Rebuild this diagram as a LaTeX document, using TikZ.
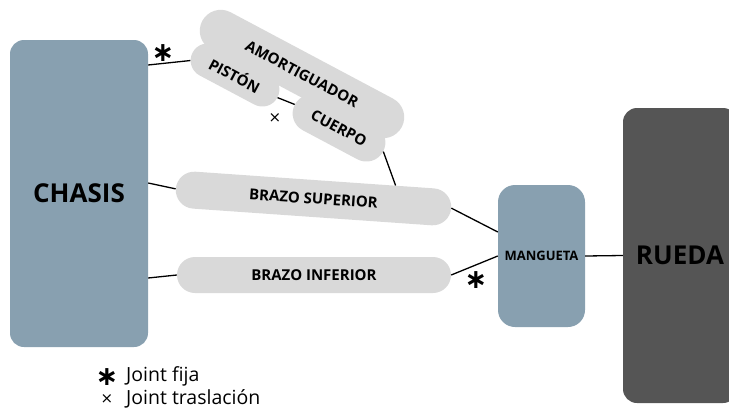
\documentclass[tikz,border=0pt]{standalone}
\usepackage{fontspec}
\setmainfont{Open Sans}
\newfontfamily\symfont{DejaVu Sans}
\usetikzlibrary{shapes.misc,calc}
\definecolor{steel}{HTML}{88A0B0}
\definecolor{pillgray}{HTML}{D9D9D9}
\definecolor{wheel}{HTML}{555555}
\begin{document}
\begin{tikzpicture}[x=1pt,y=-1pt,
  block/.style={draw=none, fill=steel, rounded corners=14pt, text=black, inner sep=0pt},
  part/.style={rounded rectangle, fill=pillgray, draw=none, inner sep=0pt, text=black,
    font=\bfseries\fontsize{15}{17}\selectfont},
  link/.style={line width=1.3pt, black},
  fixmark/.style={font=\symfont\bfseries\fontsize{27}{27}\selectfont, inner sep=0pt},
  slidemark/.style={font=\symfont\fontsize{15}{15}\selectfont, inner sep=0pt},
  legtext/.style={anchor=base west, inner sep=0pt, font=\fontsize{19.5}{22}\selectfont}]
\useasboundingbox (0,0) rectangle (729,410);
% blocks
\node[block, minimum width=138pt, minimum height=307pt,
  font=\bfseries\fontsize{26}{30}\selectfont] (chasis) at (79,193.5) {CHASIS};
\node[block, fill=wheel, minimum width=114pt, minimum height=295pt,
  font=\bfseries\fontsize{26}{30}\selectfont] (rueda) at (680,255.5) {RUEDA};
\node[block, rounded corners=17pt, minimum width=87pt, minimum height=142pt,
  font=\bfseries\fontsize{13}{15}\selectfont] (mang) at (541.5,256) {MANGUETA};
% parts
\node[part, rotate=-28, minimum width=226pt, minimum height=42pt] (amo) at (302,74) {AMORTIGUADOR};
\node[part, rotate=-28, minimum width=96pt, minimum height=34pt] (pis) at (235,75) {PISTÓN};
\node[part, rotate=-28, minimum width=100pt, minimum height=38pt] (cue) at (339,128) {CUERPO};
\node[part, rotate=-4, minimum width=276pt, minimum height=37pt] (bs) at (313.5,198.5) {BRAZO SUPERIOR};
\node[part, minimum width=274pt, minimum height=36pt] (bi) at (314,275) {BRAZO INFERIOR};
% connectors
\draw[link] ([yshift=128.5pt]chasis.east) -- (pis.190);
\draw[link] (pis.east) -- (cue.west);
\draw[link] (cue.east) -- (bs.13);
\draw[link] ([yshift=10.5pt]chasis.east) -- (bs.west);
\draw[link] ([yshift=-84.5pt]chasis.east) -- (bi.west);
\draw[link] (bs.east) -- ([yshift=24pt]mang.west);
\draw[link] (bi.east) -- (mang.west);
\draw[link] (mang.east) -- (rueda.west);
% joint marks
\node[fixmark] (m1) at (163,53) {∗};
\node[fixmark] (m2) at (476,280) {∗};
\node[slidemark] (m3) at (275,118) {×};
% legend
\node[fixmark] (lg1) at (107,377) {∗};
\node[legtext] (lt1) at (126,381) {Joint fija};
\node[slidemark] (lg2) at (107,399) {×};
\node[legtext] (lt2) at (126,404) {Joint traslación};
\end{tikzpicture}
\end{document}
